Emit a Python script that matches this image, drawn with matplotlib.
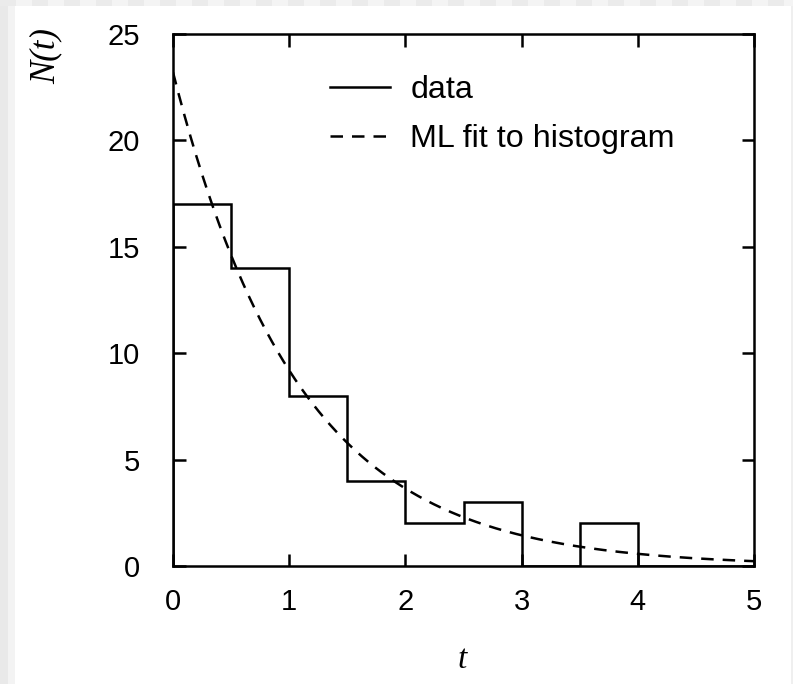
import numpy as np
import matplotlib
matplotlib.use("Agg")
import matplotlib.pyplot as plt
from matplotlib.patches import Rectangle

# ---- data ----
bin_edges = [0.0, 0.5, 1.0, 1.5, 2.0, 2.5, 3.0, 3.5, 4.0, 4.5, 5.0]
bin_counts = [17, 14, 8, 4, 2, 3, 0, 2, 0, 0]
fit_amplitude = 23.2   # N(0) of the ML exponential fit
fit_tau = 1.08         # decay constant of the fit
x_ticks = [0, 1, 2, 3, 4, 5]
y_ticks = [0, 5, 10, 15, 20, 25]
legend_labels = ["data", "ML fit to histogram"]

W, H = 793, 684
fig = plt.figure(figsize=(W / 100, H / 100), dpi=100)
fig.patch.set_facecolor("#efefef")

# checkered light-grey border like the reference
def fig_rect(x0, y0, w, h, color):
    fig.patches.append(Rectangle((x0 / W, 1 - (y0 + h) / H), w / W, h / H,
                                 transform=fig.transFigure, color=color,
                                 lw=0, zorder=-10))

fig_rect(0, 0, 8, H, "#e9e9e9")
fig_rect(8, 0, 7, H, "#f3f3f3")
for i in range(0, W, 32):
    fig_rect(i, 0, 16, 6, "#ebebeb")
    fig_rect(i + 16, 0, 16, 6, "#f4f4f4")
fig_rect(15, 6, 776, H - 6, "white")

ax = fig.add_axes([173 / W, 1 - 566 / H, (754 - 173) / W, (566 - 34) / H])
ax.set_facecolor("white")

lw = 1.8
ax.stairs(bin_counts, bin_edges, baseline=0, color="black", lw=lw,
          label=legend_labels[0], zorder=3)

t = np.linspace(0, 5, 600)
ax.plot(t, fit_amplitude * np.exp(-t / fit_tau), color="black", lw=lw,
        linestyle=(0, (5.0, 3.6)), label=legend_labels[1], zorder=2)

ax.set_xlim(0, 5)
ax.set_ylim(0, 25)
ax.set_xticks(x_ticks)
ax.set_yticks(y_ticks)

font = "Liberation Sans"
ax.tick_params(axis="both", direction="in", length=9, width=lw,
               top=True, right=True, labelsize=21, colors="black")
ax.tick_params(axis="y", pad=24)
ax.tick_params(axis="x", pad=16)
for lab in ax.get_xticklabels() + ax.get_yticklabels():
    lab.set_fontfamily(font)
for s in ax.spines.values():
    s.set_linewidth(lw)
    s.set_color("black")

leg = ax.legend(loc="upper left",
                bbox_to_anchor=(330 / W, 1 - 75 / H),
                bbox_transform=fig.transFigure,
                frameon=False, borderpad=0, borderaxespad=0,
                handlelength=1.87, handletextpad=0.62, labelspacing=0.6,
                prop={"family": font, "size": 23.2})

fig.text(462 / W, 1 - 660 / H, "t", fontfamily="Liberation Serif",
         fontstyle="italic", fontsize=24, ha="center", va="center")
fig.text(46 / W, 1 - 56 / H, "N(t)", fontfamily="Liberation Serif",
         fontstyle="italic", fontsize=25, ha="center", va="center",
         rotation=90)

fig.savefig("out.png", dpi=100, facecolor=fig.get_facecolor())
